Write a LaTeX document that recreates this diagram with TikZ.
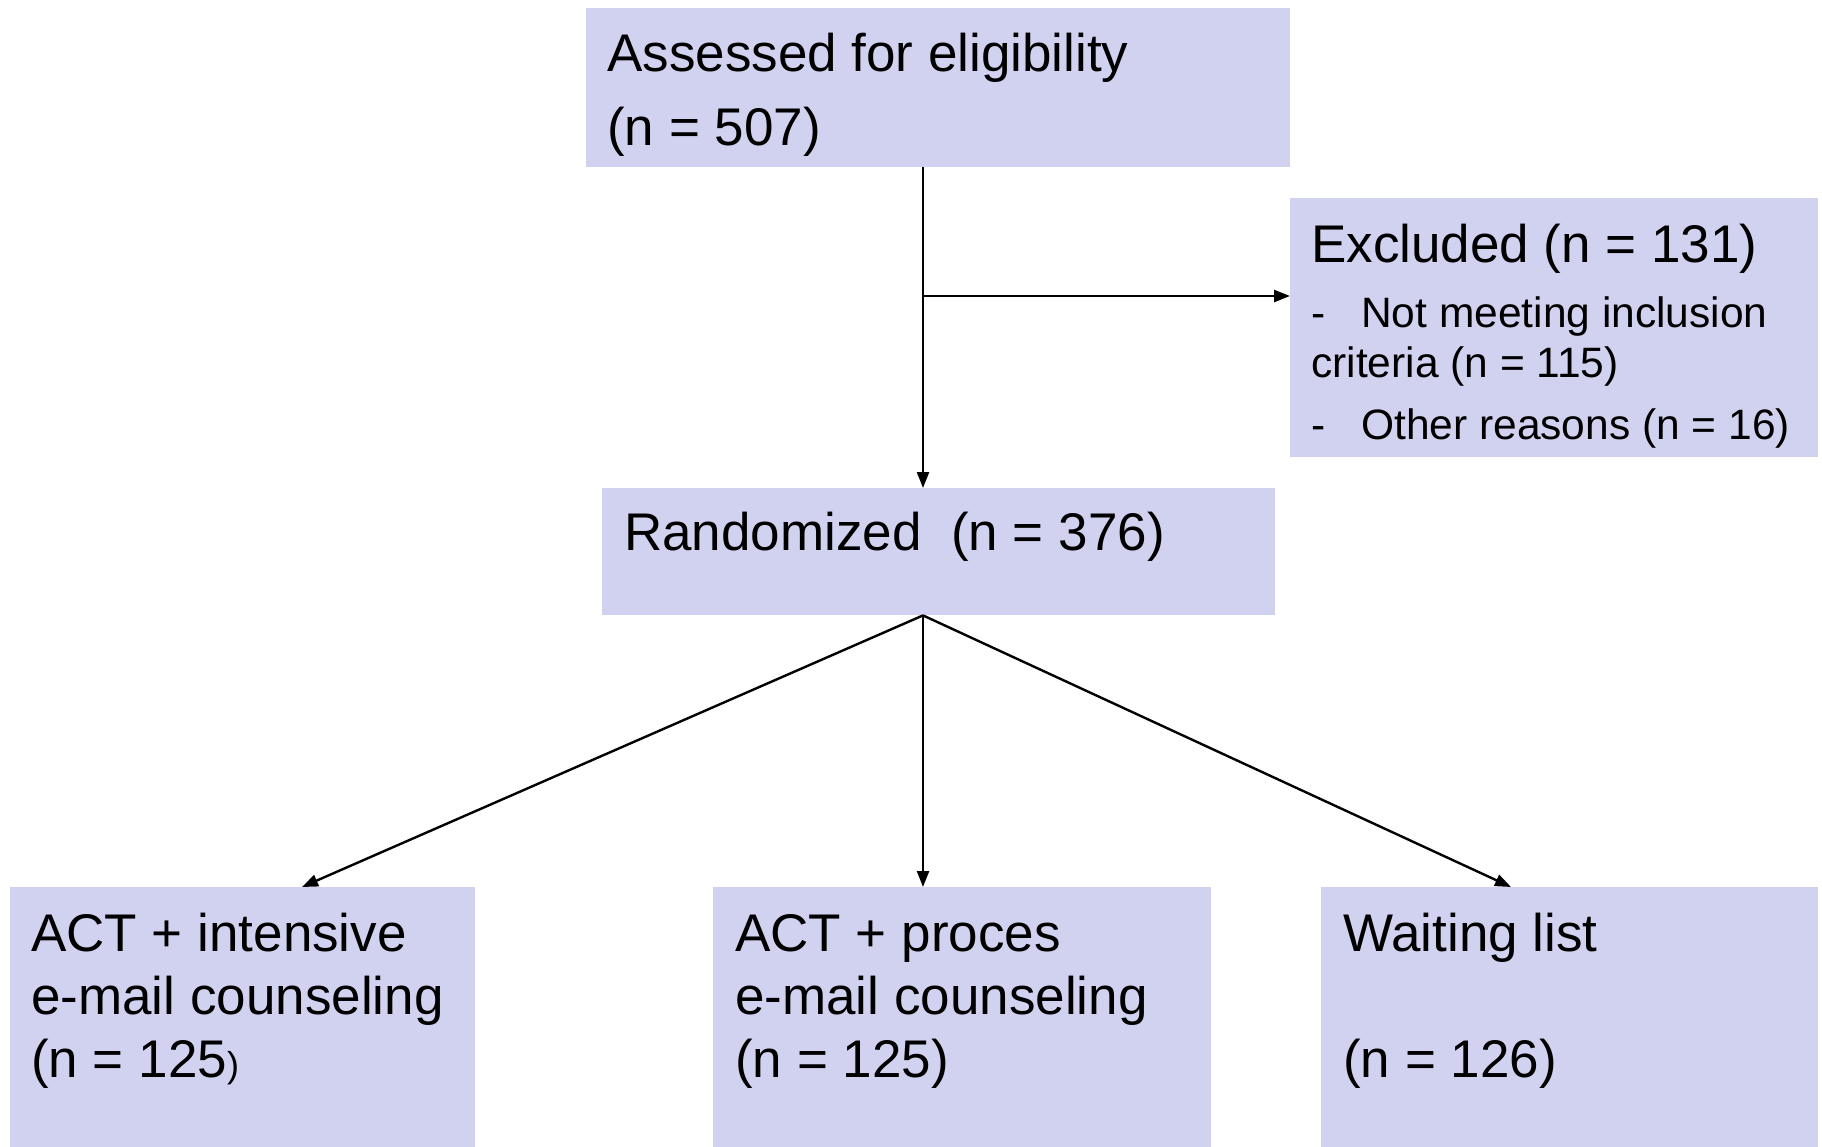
\documentclass[tikz,border=0pt]{standalone}
\usepackage{fontspec}
\setmainfont{Liberation Sans}
\usetikzlibrary{arrows.meta}
\definecolor{boxfill}{RGB}{209,210,239}
\begin{document}
\begin{tikzpicture}[x=1pt,y=-1pt,
  box/.style={fill=boxfill, draw=none, anchor=north west, inner sep=0pt},
  big/.style={anchor=base west, inner sep=0pt, font=\fontsize{53}{60}\selectfont},
  small/.style={anchor=base west, inner sep=0pt, font=\fontsize{42.5}{48}\selectfont},
  conn/.style={line width=2.4pt, -{Triangle[length=16pt,width=12pt]}},
  plain/.style={line width=2.4pt}]
\useasboundingbox (0,0) rectangle (1822,1146);
% boxes
\node[box, minimum width=704pt, minimum height=159pt] (assess) at (586,8) {};
\node[box, minimum width=528pt, minimum height=259pt] (excl) at (1290,198) {};
\node[box, minimum width=673pt, minimum height=127pt] (rand) at (602,488) {};
\node[box, minimum width=465pt, minimum height=260pt] (act1) at (10,887) {};
\node[box, minimum width=498pt, minimum height=260pt] (act2) at (713,887) {};
\node[box, minimum width=497pt, minimum height=260pt] (wait) at (1321,887) {};
% texts
\node[big] (t1a) at (607,71) {Assessed for eligibility};
\node[big] (t1b) at (607,145) {(n = 507)};
\node[big] (t2a) at (1311,262) {Excluded (n = 131)};
\node[small] (t2b) at (1311,327) {\makebox[50pt][l]{-}Not meeting inclusion};
\node[small] (t2c) at (1311,377) {criteria (n = 115)};
\node[small] (t2d) at (1311,439) {\makebox[50pt][l]{-}Other reasons (n = 16)};
\node[big] (t3) at (624,550) {Randomized\ \ (n = 376)};
\node[big] (t4a) at (31,951) {ACT + intensive};
\node[big] (t4b) at (31,1014) {e-mail counseling};
\node[big] (t4c) at (31,1077) {(n = 125{\fontsize{36}{40}\selectfont)}};
\node[big] (t5a) at (735,951) {ACT + proces};
\node[big] (t5b) at (735,1014) {e-mail counseling};
\node[big] (t5c) at (735,1077) {(n = 125)};
\node[big] (t6a) at (1343,951) {Waiting list};
\node[big] (t6c) at (1343,1077) {(n = 126)};
% connectors
\coordinate (split) at (923,296);
\coordinate (tipL) at (302,887);
\coordinate (tipR) at (1511,887);
\draw[conn] (assess.south -| split) -- (rand.north -| split);
\draw[conn] (split) -- (excl.west |- split);
\draw[conn] (rand.south -| split) -- (tipL);
\draw[conn] (rand.south -| split) -- (act2.north -| split);
\draw[conn] (rand.south -| split) -- (tipR);
\end{tikzpicture}
\end{document}
